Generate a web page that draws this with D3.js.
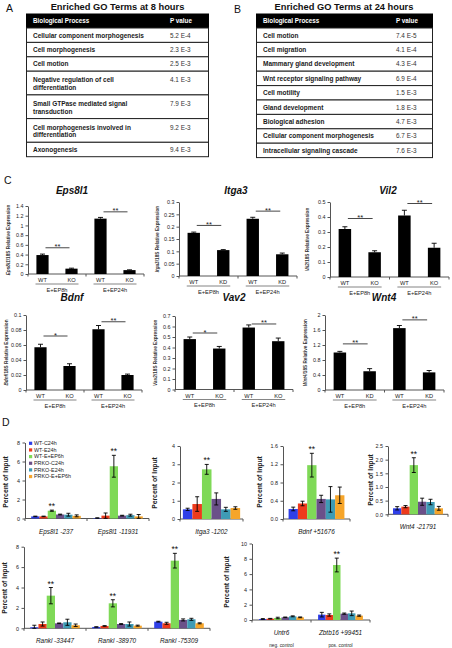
<!DOCTYPE html>
<html><head><meta charset="utf-8">
<script src="https://cdn.jsdelivr.net/npm/d3@7"></script>
<style>
html,body{margin:0;padding:0;background:#fff;}
svg{display:block;font-family:"Liberation Sans",Arial,sans-serif;}
</style></head><body>
<svg id="fig" width="452" height="648"></svg>
<script>
// ---------------- DATA ----------------
const tableHeader = ["Biological Process", "P value"];
const go8Title = "Enriched GO Terms at 8 hours";
const go8Terms = [["Cellular component morphogenesis"], ["Cell morphogenesis"], ["Cell motion"],
  ["Negative regulation of cell", "differentiation"], ["Small GTPase mediated signal", "transduction"],
  ["Cell morphogenesis involved in", "differentiation"], ["Axonogenesis"]];
const go8P = ["5.2 E-4", "2.3 E-3", "2.5 E-3", "4.1 E-3", "7.9 E-3", "9.2 E-3", "9.4 E-3"];
const go24Title = "Enriched GO Terms at 24 hours";
const go24Terms = [["Cell motion"], ["Cell migration"], ["Mammary gland development"], ["Wnt receptor signaling pathway"],
  ["Cell motility"], ["Gland development"], ["Biological adhesion"], ["Cellular component morphogenesis"],
  ["Intracellular signaling cascade"]];
const go24P = ["7.4 E-5", "4.1 E-4", "4.3 E-4", "6.9 E-4", "1.5 E-3", "1.8 E-3", "4.7 E-3", "6.7 E-3", "7.6 E-3"];

// Panel C: qPCR (WT 8h, KO 8h, WT 24h, KO 24h)
const qpcrGenes = ["Eps8l1", "Itga3", "Vil2", "Bdnf", "Vav2", "Wnt4"];
const qpcrConditions = ["E+EP8h", "E+EP24h"];
const qpcrGenotypes = [["WT", "KO"], ["WT", "KD"], ["WT", "KO"], ["WT", "KO"], ["WT", "KO"], ["WT", "KD"]];
const eps8l1Expr = [0.39, 0.11, 1.14, 0.08];   const eps8l1Err = [0.02, 0.01, 0.025, 0.006];
const itga3Expr = [0.175, 0.105, 0.232, 0.088]; const itga3Err = [0.003, 0.002, 0.006, 0.005];
const vil2Expr = [0.32, 0.165, 0.41, 0.195];    const vil2Err = [0.015, 0.01, 0.035, 0.03];
const bdnfExpr = [0.057, 0.032, 0.081, 0.02];   const bdnfErr = [0.004, 0.003, 0.005, 0.0012];
const vav2Expr = [0.48, 0.39, 0.59, 0.46];      const vav2Err = [0.02, 0.02, 0.025, 0.03];
const wnt4Expr = [1.0, 0.5, 1.65, 0.47];        const wnt4Err = [0.03, 0.07, 0.07, 0.05];
const qpcrValues = [eps8l1Expr, itga3Expr, vil2Expr, bdnfExpr, vav2Expr, wnt4Expr];
const qpcrErrors = [eps8l1Err, itga3Err, vil2Err, bdnfErr, vav2Err, wnt4Err];
const qpcrSigLevels = [[0.54, 1.28], [0.205, 0.263], [0.39, 0.49], [0.072, 0.091], [0.538, 0.624], [1.23, 1.87]];
const qpcrSigMarks = [["**", "**"], ["**", "**"], ["**", "**"], ["*", "**"], ["*", "**"], ["**", "**"]];
const qpcrTicks = [["0", "0.2", "0.4", "0.6", "0.8", "1", "1.2", "1.4"],
  ["0", "0.05", "0.1", "0.15", "0.2", "0.25", "0.3"],
  ["0", "0.1", "0.2", "0.3", "0.4", "0.5"],
  ["0", "0.02", "0.04", "0.06", "0.08", "0.1"],
  ["0", "0.1", "0.2", "0.3", "0.4", "0.5", "0.6", "0.7"],
  ["0", "0.4", "0.8", "1.2", "1.6", "2"]];

// Panel D: ChIP (percent of input)
const chipSeries = ["WT-C24h", "WT-E24h", "WT-E+EP6h", "PRKO-C24h", "PRKO-E24h", "PRKO-E+EP6h"];
const chipRegions = [["Eps8l1 -237", "Eps8l1 -11931"], ["Itga3 -1202"], ["Bdnf +51676"], ["Wnt4 -21791"],
  ["Rankl -33447", "Rankl -38970", "Rankl -75309"], ["Untr6", "Zbtb16 +99451"]];
const chipNotes = [[], [], [], [], [], ["neg. control", "pos. control"]];
const eps8l1_237 = [0.22, 0.22, 0.82, 0.42, 0.4, 0.28];    const eps8l1_237Err = [0.03, 0.03, 0.06, 0.04, 0.15, 0.1];
const eps8l1_11931 = [0.05, 0.3, 5.5, 0.3, 0.35, 0.22];    const eps8l1_11931Err = [0.02, 0.28, 1.15, 0.04, 0.1, 0.2];
const itga3_1202 = [0.53, 0.82, 2.72, 1.1, 0.53, 0.6];      const itga3_1202Err = [0.06, 0.4, 0.27, 0.33, 0.11, 0.07];
const bdnf_51676 = [0.22, 0.34, 1.18, 0.44, 0.43, 0.52];    const bdnf_51676Err = [0.04, 0.05, 0.26, 0.08, 0.28, 0.18];
const wnt4_21791 = [0.22, 0.28, 1.8, 0.46, 0.45, 0.22];     const wnt4_21791Err = [0.06, 0.04, 0.27, 0.13, 0.1, 0.07];
const rankl_33447 = [0.1, 0.42, 3.2, 0.49, 0.59, 0.3];      const rankl_33447Err = [0.2, 0.2, 0.8, 0.03, 0.3, 0.12];
const rankl_38970 = [0.13, 0.23, 2.45, 0.42, 0.42, 0.26];   const rankl_38970Err = [0.02, 0.03, 0.35, 0.04, 0.2, 0.05];
const rankl_75309 = [0.65, 0.49, 6.63, 0.82, 0.88, 0.49];   const rankl_75309Err = [0.04, 0.1, 0.72, 0.1, 0.1, 0.05];
const untr6 = [0.13, 0.17, 0.26, 0.35, 0.48, 0.35];         const untr6Err = [0.05, 0.04, 0.1, 0.04, 0.06, 0.05];
const zbtb16_99451 = [0.7, 0.65, 7.19, 0.83, 0.87, 0.57];   const zbtb16_99451Err = [0.3, 0.15, 0.9, 0.08, 0.3, 0.08];
const chipValues = [[eps8l1_237, eps8l1_11931], [itga3_1202], [bdnf_51676], [wnt4_21791],
  [rankl_33447, rankl_38970, rankl_75309], [untr6, zbtb16_99451]];
const chipErrors = [[eps8l1_237Err, eps8l1_11931Err], [itga3_1202Err], [bdnf_51676Err], [wnt4_21791Err],
  [rankl_33447Err, rankl_38970Err, rankl_75309Err], [untr6Err, zbtb16_99451Err]];
const chipSig = [[true, true], [true], [true], [true], [true, true, true], [false, true]];
const chipTicks = [["0", "2", "4", "6", "8"], ["0", "1", "2", "3", "4"], ["0.0", "0.4", "0.8", "1.2", "1.6"],
  ["0.0", "0.5", "1.0", "1.5", "2.0", "2.5"], ["0", "2", "4", "6", "8"], ["0", "2", "4", "6", "8", "10"]];
const chipYLabel = "Percent of Input";

// ---------------- STYLE / LAYOUT ----------------
const chipColors = ["#2f3fe8", "#ee3a1c", "#7fd957", "#6b5089", "#3e9bb5", "#f6a52a"];
const FONT = "'Liberation Sans', Arial, sans-serif";
const AX = "#555";
const svg = d3.select("#fig");
svg.append("rect").attr("width", 452).attr("height", 648).attr("fill", "#fff");

function txt(g, s, x, y, size, opts = {}) {
  const t = g.append("text").text(s).attr("x", x).attr("y", y).attr("font-size", size)
    .attr("font-family", FONT).attr("fill", opts.fill || "#111");
  if (opts.anchor) t.attr("text-anchor", opts.anchor);
  if (opts.bold) t.attr("font-weight", "bold");
  if (opts.italic) t.attr("font-style", "italic");
  return t;
}

// ---------------- TABLES ----------------
function drawTable(title, terms, pvals, L) {
  const g = svg.append("g");
  txt(g, L.letter, L.letterX, L.letterY, 10.5);
  txt(g, title, L.titleX, L.titleY, 9.3, { anchor: "middle", bold: true });
  g.append("rect").attr("x", L.x0).attr("y", L.top).attr("width", L.x1 - L.x0).attr("height", L.headH).attr("fill", "#000");
  txt(g, tableHeader[0], L.textX, L.top + L.headH / 2 + 2.3, 6.3, { bold: true, fill: "#fff" });
  txt(g, tableHeader[1], L.pX, L.top + L.headH / 2 + 2.3, 6.3, { bold: true, fill: "#fff" });
  let yy = L.top + L.headH;
  terms.forEach((lines, i) => {
    const h = lines.length > 1 ? L.rowH2 : L.rowH;
    g.append("rect").attr("x", L.x0 + 0.5).attr("y", yy).attr("width", L.x1 - L.x0 - 1).attr("height", h)
      .attr("fill", "#fff").attr("stroke", "#222").attr("stroke-width", 1);
    const base = lines.length > 1 ? 11 : h / 2 + 2.3;
    lines.forEach((ln, k) => txt(g, ln, L.textX, yy + base + k * 7.6, 6.5, { bold: true, fill: "#1a1a1a" }));
    txt(g, pvals[i], L.pX, yy + base, 6.4, { fill: "#333" });
    yy += h;
  });
}
drawTable(go8Title, go8Terms, go8P, { letter: "A", letterX: 6, letterY: 12, titleX: 117.5, titleY: 10,
  x0: 26, x1: 209, top: 13.5, headH: 14.5, rowH: 14.4, rowH2: 23.7, textX: 33, pX: 170 });
drawTable(go24Title, go24Terms, go24P, { letter: "B", letterX: 234, letterY: 13, titleX: 344, titleY: 10,
  x0: 256, x1: 433, top: 13.5, headH: 14.5, rowH: 14.4, rowH2: 23.7, textX: 263, pX: 396 });

// ---------------- PANEL C ----------------
txt(svg, "C", 4, 184, 10.5);
const qpcrLayout = [
  { x0: 28, x1: 144, y0: 274, y1: 206, tx: 72, ty: 194, lx: 8 },
  { x0: 179, x1: 297, y0: 276, y1: 202, tx: 236, ty: 194, lx: 157 },
  { x0: 330, x1: 449, y0: 277, y1: 202, tx: 388, ty: 194, lx: 307 },
  { x0: 26, x1: 142, y0: 390, y1: 315, tx: 72, ty: 301, lx: 6 },
  { x0: 175, x1: 293, y0: 389.5, y1: 316, tx: 234, ty: 301, lx: 155 },
  { x0: 325, x1: 444, y0: 390, y1: 315, tx: 384, ty: 301, lx: 305 }];

function drawQpcr(k, L) {
  const vals = qpcrValues[k], errs = qpcrErrors[k], ticks = qpcrTicks[k];
  const tv = ticks.map(Number);
  const g = svg.append("g");
  const x = d3.scaleBand().domain(d3.range(vals.length)).range([L.x0, L.x1]).paddingInner(0.58).paddingOuter(0.29);
  const y = d3.scaleLinear().domain([0, d3.max(tv)]).range([L.y0, L.y1]);
  const cx = i => x(i) + x.bandwidth() / 2;
  const ax = g.append("g").attr("transform", `translate(${L.x0},0)`)
    .call(d3.axisLeft(y).tickValues(tv).tickFormat((d, i) => ticks[i]).tickSizeInner(2.5).tickSizeOuter(0).tickPadding(2));
  ax.select(".domain").attr("stroke", AX);
  ax.selectAll(".tick line").attr("stroke", AX);
  ax.selectAll("text").attr("font-size", 5.4).attr("fill", "#222").attr("font-family", FONT);
  g.append("line").attr("x1", L.x0).attr("x2", L.x1).attr("y1", L.y0).attr("y2", L.y0).attr("stroke", AX);
  [L.x0, (L.x0 + L.x1) / 2, L.x1].forEach(xx => g.append("line").attr("x1", xx).attr("x2", xx)
    .attr("y1", L.y0).attr("y2", L.y0 + 2.5).attr("stroke", AX));
  g.selectAll("rect.bar").data(vals).join("rect").attr("class", "bar")
    .attr("x", (d, i) => x(i)).attr("width", x.bandwidth())
    .attr("y", d => y(d)).attr("height", d => L.y0 - y(d)).attr("fill", "#000");
  vals.forEach((v, i) => {
    const yt = y(v + errs[i]);
    g.append("line").attr("x1", cx(i)).attr("x2", cx(i)).attr("y1", y(v)).attr("y2", yt).attr("stroke", "#000").attr("stroke-width", 0.9);
    g.append("line").attr("x1", cx(i) - 2.5).attr("x2", cx(i) + 2.5).attr("y1", yt).attr("y2", yt).attr("stroke", "#000").attr("stroke-width", 0.9);
    txt(g, qpcrGenotypes[k][i % 2], cx(i), L.y0 + 8.2, 5.7, { anchor: "middle", fill: "#222" });
  });
  qpcrConditions.forEach((c, j) => {
    const a = cx(2 * j), b = cx(2 * j + 1);
    g.append("line").attr("x1", a - 7).attr("x2", b + 7).attr("y1", L.y0 + 10).attr("y2", L.y0 + 10).attr("stroke", "#666").attr("stroke-width", 0.8);
    txt(g, c, (a + b) / 2, L.y0 + 17.5, 5.7, { anchor: "middle", fill: "#222" });
  });
  qpcrSigLevels[k].forEach((lev, j) => {
    const a = cx(2 * j) + 3, b = cx(2 * j + 1) - 2, yy = y(lev);
    g.append("line").attr("x1", a).attr("x2", b).attr("y1", yy).attr("y2", yy).attr("stroke", "#333").attr("stroke-width", 0.9);
    txt(g, qpcrSigMarks[k][j], (a + b) / 2, yy + 1.5, 7.5, { anchor: "middle", fill: "#222" });
  });
  txt(g, qpcrGenes[k], L.tx, L.ty, 10, { anchor: "middle", bold: true, italic: true });
  const yl = txt(g, "", 0, 0, 4.7, { anchor: "middle", bold: true, fill: "#333" })
    .attr("transform", `translate(${L.lx},${(L.y0 + L.y1) / 2}) rotate(-90)`).attr("dy", "0.35em");
  yl.append("tspan").attr("font-style", "italic").text(qpcrGenes[k]);
  yl.append("tspan").text("/18S Relative Expression");
}
qpcrLayout.forEach((L, k) => drawQpcr(k, L));

// ---------------- PANEL D ----------------
txt(svg, "D", 2, 426, 10.5);
const chipLayout = [
  { x0: 25, x1: 149, y0: 518.5, y1: 442.5, pi: 0.2, po: 0.1, lx: 6, ly: 482 },
  { x0: 180, x1: 243, y0: 519, y1: 446, pi: 0, po: 0.05, lx: 155, ly: 483 },
  { x0: 283, x1: 350, y0: 519, y1: 446, pi: 0, po: 0.1, lx: 260, ly: 482 },
  { x0: 388, x1: 448, y0: 514.3, y1: 446, pi: 0, po: 0.1, lx: 371, ly: 480 },
  { x0: 24, x1: 210, y0: 628.3, y1: 546.7, pi: 0.2, po: 0.1, lx: 5, ly: 588 },
  { x0: 252, x1: 370, y0: 620, y1: 543.5, pi: 0.24, po: 0.12, lx: 227, ly: 582 }];

function drawChip(k, L) {
  const groups = chipRegions[k], ticks = chipTicks[k], tv = ticks.map(Number);
  const g = svg.append("g");
  const xg = d3.scaleBand().domain(d3.range(groups.length)).range([L.x0, L.x1]).paddingInner(L.pi).paddingOuter(L.po);
  const xs = d3.scaleBand().domain(d3.range(chipSeries.length)).range([0, xg.bandwidth()]);
  const y = d3.scaleLinear().domain([0, d3.max(tv)]).range([L.y0, L.y1]);
  const ax = g.append("g").attr("transform", `translate(${L.x0},0)`)
    .call(d3.axisLeft(y).tickValues(tv).tickFormat((d, i) => ticks[i]).tickSizeInner(2.5).tickSizeOuter(0).tickPadding(2.5));
  ax.select(".domain").attr("stroke", AX);
  ax.selectAll(".tick line").attr("stroke", AX);
  ax.selectAll("text").attr("font-size", 5.4).attr("fill", "#222").attr("font-family", FONT);
  g.append("line").attr("x1", L.x0).attr("x2", L.x1).attr("y1", L.y0).attr("y2", L.y0).attr("stroke", AX);
  d3.range(groups.length + 1).forEach(j => {
    const xx = L.x0 + j * (L.x1 - L.x0) / groups.length;
    g.append("line").attr("x1", xx).attr("x2", xx).attr("y1", L.y0).attr("y2", L.y0 + 2.5).attr("stroke", AX);
  });
  groups.forEach((name, j) => {
    const vals = chipValues[k][j], errs = chipErrors[k][j];
    const gx = xg(j);
    g.selectAll(null).data(vals).join("rect")
      .attr("x", (d, i) => gx + xs(i)).attr("width", xs.bandwidth())
      .attr("y", d => y(d)).attr("height", d => L.y0 - y(d)).attr("fill", (d, i) => chipColors[i]);
    vals.forEach((v, i) => {
      const c = gx + xs(i) + xs.bandwidth() / 2;
      const yt = y(v + errs[i]), yb = y(Math.max(0, v - errs[i]));
      g.append("line").attr("x1", c).attr("x2", c).attr("y1", yb).attr("y2", yt).attr("stroke", "#000").attr("stroke-width", 0.9);
      [yt, yb].forEach(yy => g.append("line").attr("x1", c - 2).attr("x2", c + 2).attr("y1", yy).attr("y2", yy).attr("stroke", "#000").attr("stroke-width", 0.9));
      if (i === 2 && chipSig[k][j]) txt(g, "**", c, yt - 1, 8.5, { anchor: "middle", fill: "#111" });
    });
    txt(g, name, gx + xg.bandwidth() / 2, L.y0 + 15, 6.4, { anchor: "middle", italic: true, fill: "#111" });
    if (chipNotes[k][j]) txt(g, chipNotes[k][j], gx + xg.bandwidth() / 2, L.y0 + 26.5, 4.7, { anchor: "middle", fill: "#222" });
  });
  txt(g, chipYLabel, 0, 0, 6.8, { anchor: "middle", bold: true, fill: "#222" })
    .attr("transform", `translate(${L.lx},${L.ly}) rotate(-90)`).attr("dy", "0.35em");
}
chipLayout.forEach((L, k) => drawChip(k, L));

// legend (first ChIP chart)
const lg = svg.append("g");
chipSeries.forEach((s, i) => {
  const yy = 443.3 + i * 6.65;
  lg.append("rect").attr("x", 29).attr("y", yy - 1.6).attr("width", 3.2).attr("height", 3.2).attr("fill", chipColors[i]);
  txt(lg, s, 34, yy + 1.8, 5.4, { fill: "#222" });
});
</script>
</body></html>
